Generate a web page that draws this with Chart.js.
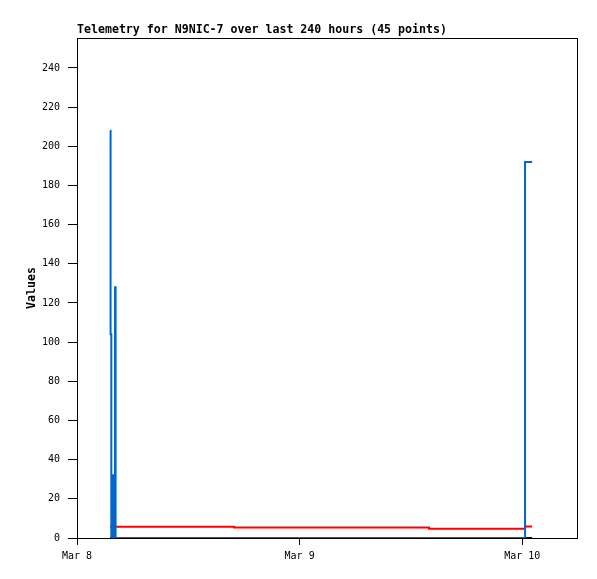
<!DOCTYPE html>
<html>
<head>
<meta charset="utf-8">
<script src="https://cdn.jsdelivr.net/npm/chart.js@4.4.1/dist/chart.umd.min.js"></script>
<style>
  html, body { margin: 0; padding: 0; background: #fff; }
  #wrap { width: 597px; height: 579px; }
</style>
</head>
<body>
<div id="wrap"><canvas id="telemetryChart"></canvas></div>
<script>
// hours since Mar 8 00:00
const hours = [
    3.56, 3.62, 3.70,
    3.720, 3.730, 3.740, 3.750, 3.760, 3.770, 3.780, 3.790, 3.800, 3.810, 3.820, 3.830,
    3.840, 3.850, 3.860, 3.870, 3.880, 3.890, 3.900, 3.910, 3.920, 3.930, 3.940, 3.950,
    3.960, 3.970, 3.980, 3.990, 4.000, 4.010, 4.020, 4.030, 4.040, 4.050, 4.060, 4.070,
    4.10, 4.16,
    16.93, 37.95, 48.30, 49.06
];
const blueValues = [
    208, 104, 0,
    31, 0, 30, 2, 32, 0, 29, 1, 31, 0, 30, 0,
    32, 3, 28, 0, 31, 0, 30, 1, 32, 0, 29, 0,
    31, 2, 30, 0, 32, 0, 28, 1, 31, 0, 30, 0,
    128, 0,
    0, 0, 192, 192
];
const redValues = [
    5.8, 5.8, 5.8,
    5.8, 5.8, 5.8, 5.8, 5.8, 5.8, 5.8, 5.8, 5.8, 5.8, 5.8, 5.8,
    5.8, 5.8, 5.8, 5.8, 5.8, 5.8, 5.8, 5.8, 5.8, 5.8, 5.8, 5.8,
    5.8, 5.8, 5.8, 5.8, 5.8, 5.8, 5.8, 5.8, 5.8, 5.8, 5.8, 5.8,
    5.8, 5.8,
    5.3, 4.7, 5.9, 5.9
];
const blackValues = [
    0, 0, 0,
    0, 0, 0, 0, 0, 0, 0, 0, 0, 0, 0, 0,
    0, 0, 0, 0, 0, 0, 0, 0, 0, 0, 0, 0,
    0, 0, 0, 0, 0, 0, 0, 0, 0, 0, 0, 0,
    0, 0,
    0, 0, 0, 0
];
const dayTicks = { 0: 'Mar 8', 24: 'Mar 9', 48: 'Mar 10' };
const titleText = 'Telemetry for N9NIC-7 over last 240 hours (45 points)';

function toPoints(values) {
    return values.map((v, i) => ({ x: hours[i], y: v }));
}

// frame round the plot + title at the plot's left edge
const framePlugin = {
    id: 'frame',
    afterDraw(chart) {
        const { ctx, chartArea } = chart;
        ctx.save();
        ctx.strokeStyle = '#000';
        ctx.lineWidth = 1;
        ctx.strokeRect(chartArea.left + 0.5, chartArea.top + 0.5,
            chartArea.right - chartArea.left, chartArea.bottom - chartArea.top);
        ctx.fillStyle = '#000';
        ctx.font = 'bold 11.6px "DejaVu Sans Mono", monospace';
        ctx.textBaseline = 'alphabetic';
        ctx.fillText(titleText, chartArea.left, chartArea.top - 5);
        ctx.restore();
    }
};

const lineBase = { stepped: true, pointRadius: 0, borderWidth: 2, fill: false };

new Chart(document.getElementById('telemetryChart'), {
    type: 'line',
    data: {
        datasets: [
            Object.assign({ label: 'blue', data: toPoints(blueValues), borderColor: '#0066cc', order: 1 }, lineBase),
            Object.assign({ label: 'black', data: toPoints(blackValues), borderColor: '#000000', order: 2 }, lineBase),
            Object.assign({ label: 'red', data: toPoints(redValues), borderColor: '#ff0000', order: 3 }, lineBase)
        ]
    },
    options: {
        responsive: true,
        maintainAspectRatio: false,
        animation: false,
        layout: { padding: { top: 38, right: 20, left: 0, bottom: 0 } },
        plugins: { legend: { display: false }, tooltip: { enabled: false } },
        scales: {
            x: {
                type: 'linear',
                min: 0,
                max: 53.9,
                afterFit(scale) { scale.height = 41; },
                grid: { drawOnChartArea: false, color: '#000', tickLength: 7 },
                border: { color: '#000' },
                ticks: {
                    stepSize: 24,
                    includeBounds: false,
                    maxRotation: 0,
                    padding: 5,
                    color: '#000',
                    font: { family: '"DejaVu Sans Mono", monospace', size: 10 },
                    callback: v => dayTicks[v] || ''
                }
            },
            y: {
                min: 0,
                max: 255.3,
                afterFit(scale) { scale.width = 77; },
                grid: { drawOnChartArea: false, color: '#000', tickLength: 9 },
                border: { color: '#000' },
                title: {
                    display: true,
                    text: 'Values',
                    color: '#000',
                    padding: { top: 25, bottom: 0 },
                    font: { family: '"DejaVu Sans Mono", monospace', size: 11.6, weight: 'bold' }
                },
                ticks: {
                    stepSize: 20,
                    includeBounds: false,
                    padding: 8,
                    color: '#000',
                    font: { family: '"DejaVu Sans Mono", monospace', size: 10 }
                }
            }
        }
    },
    plugins: [framePlugin]
});
</script>
</body>
</html>
